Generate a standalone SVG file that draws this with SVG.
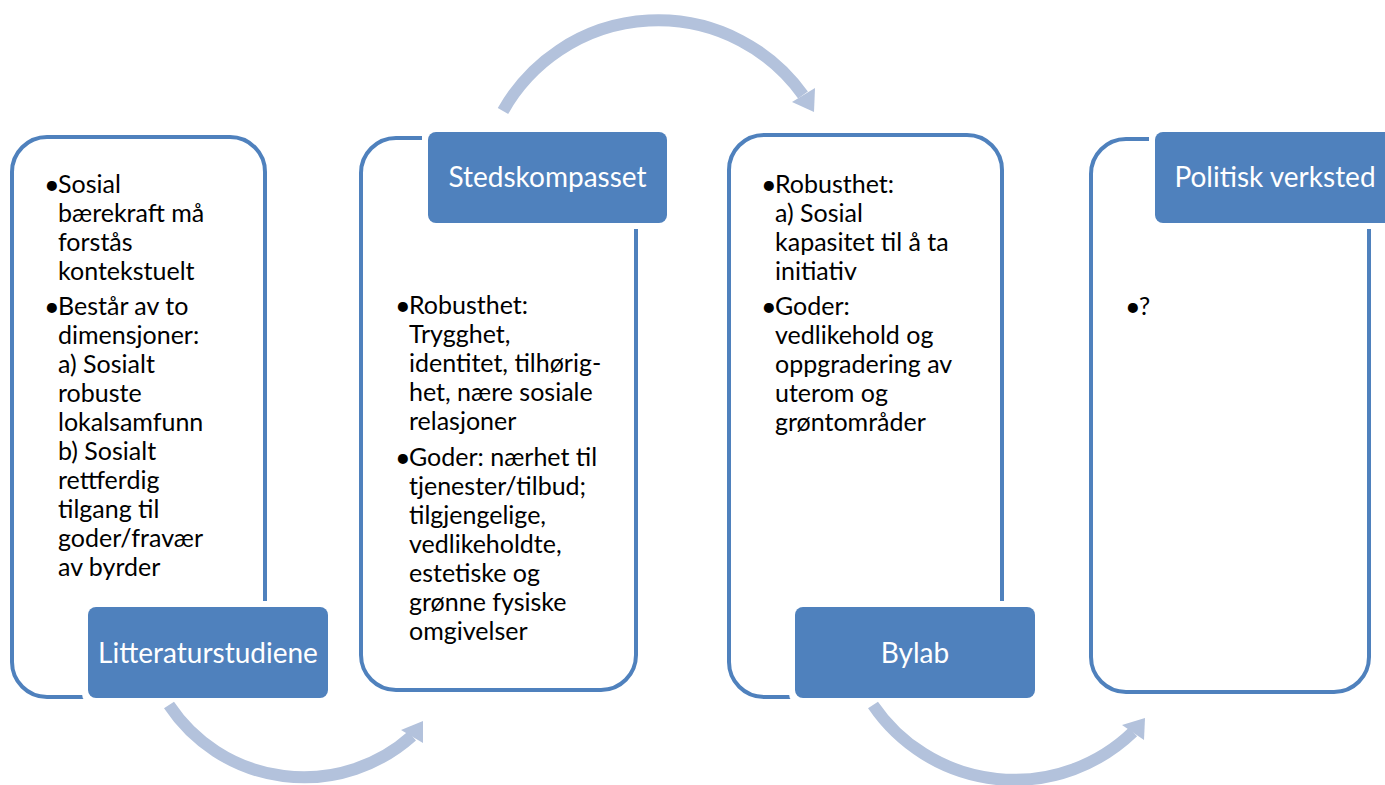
<svg xmlns="http://www.w3.org/2000/svg" width="1385" height="785" viewBox="0 0 1385 785">
<style>
.outer{fill:#fff;stroke:#4F81BD;stroke-width:4}
.mask{fill:#fff}
.lab{fill:#4F81BD}
.labt{font-family:Lato,"Open Sans","Liberation Sans",sans-serif;font-size:28px;fill:#fff;text-anchor:middle}
.body{font-family:Lato,"Open Sans","Liberation Sans",sans-serif;font-size:25px;fill:#000}
.bul{font-size:27px}
.arc{fill:none;stroke:#B3C2DC;stroke-width:12}
.head{fill:#B3C2DC}
</style>
<rect width="1385" height="785" fill="#fff"/>
<g id="node-litteratur">
<rect class="outer" x="12" y="137" width="253" height="560" rx="35"/>
<rect class="mask" x="82" y="601" width="252" height="103" rx="10"/>
<rect class="lab" x="88" y="607" width="240" height="91" rx="8"/>
<text class="labt" x="208" y="663">Litteraturstudiene</text>
<text class="body"><tspan class="bul" x="44" y="194">•</tspan><tspan x="58" y="193">Sosial</tspan><tspan x="58" y="222">bærekraft må</tspan><tspan x="58" y="251">forstås</tspan><tspan x="58" y="280">kontekstuelt</tspan><tspan class="bul" x="44" y="316">•</tspan><tspan x="58" y="315">Består av to</tspan><tspan x="58" y="344">dimensjoner:</tspan><tspan x="58" y="373">a) Sosialt</tspan><tspan x="58" y="402">robuste</tspan><tspan x="58" y="431">lokalsamfunn</tspan><tspan x="58" y="460">b) Sosialt</tspan><tspan x="58" y="489">rettferdig</tspan><tspan x="58" y="518">tilgang til</tspan><tspan x="58" y="547">goder/fravær</tspan><tspan x="58" y="576">av byrder</tspan></text>
</g>
<g id="node-stedskompasset">
<rect class="outer" x="361" y="138" width="275" height="552" rx="35"/>
<rect class="mask" x="422" y="126" width="251" height="103" rx="10"/>
<rect class="lab" x="428" y="132" width="239" height="91" rx="8"/>
<text class="labt" x="547.5" y="187">Stedskompasset</text>
<text class="body"><tspan class="bul" x="395" y="315">•</tspan><tspan x="409" y="314">Robusthet:</tspan><tspan x="409" y="343">Trygghet,</tspan><tspan x="409" y="372">identitet, tilhørig-</tspan><tspan x="409" y="401">het, nære sosiale</tspan><tspan x="409" y="430">relasjoner</tspan><tspan class="bul" x="395" y="467">•</tspan><tspan x="409" y="466">Goder: nærhet til</tspan><tspan x="409" y="495">tjenester/tilbud;</tspan><tspan x="409" y="524">tilgjengelige,</tspan><tspan x="409" y="553">vedlikeholdte,</tspan><tspan x="409" y="582">estetiske og</tspan><tspan x="409" y="611">grønne fysiske</tspan><tspan x="409" y="640">omgivelser</tspan></text>
</g>
<g id="node-bylab">
<rect class="outer" x="729" y="135" width="273" height="562" rx="35"/>
<rect class="mask" x="789" y="601" width="252" height="103" rx="10"/>
<rect class="lab" x="795" y="607" width="240" height="91" rx="8"/>
<text class="labt" x="915" y="663">Bylab</text>
<text class="body"><tspan class="bul" x="761" y="194">•</tspan><tspan x="775" y="193">Robusthet:</tspan><tspan x="775" y="222">a) Sosial</tspan><tspan x="775" y="251">kapasitet til å ta</tspan><tspan x="775" y="280">initiativ</tspan><tspan class="bul" x="761" y="316">•</tspan><tspan x="775" y="315">Goder:</tspan><tspan x="775" y="344">vedlikehold og</tspan><tspan x="775" y="373">oppgradering av</tspan><tspan x="775" y="402">uterom og</tspan><tspan x="775" y="431">grøntområder</tspan></text>
</g>
<g id="node-politisk">
<rect class="outer" x="1091" y="139" width="278" height="553" rx="35"/>
<rect class="mask" x="1149" y="126" width="252" height="103" rx="10"/>
<rect class="lab" x="1155" y="132" width="240" height="91" rx="8"/>
<text class="labt" x="1275" y="187">Politisk verksted</text>
<text class="body"><tspan class="bul" x="1125" y="316">•</tspan><tspan x="1139" y="315">?</tspan></text>
</g>
<g id="connectors">
<path class="arc" d="M 503 111 A 178 178 0 0 1 803 95"/>
<polygon class="head" points="814,112 792,102 815,88"/>
<path class="arc" d="M 169 705 A 162 162 0 0 0 412 736"/>
<polygon class="head" points="423,721 401,730 423,743"/>
<path class="arc" d="M 873 705 A 171 171 0 0 0 1133 732"/>
<polygon class="head" points="1145,718 1122,725 1144,740"/>
</g>
</svg>
